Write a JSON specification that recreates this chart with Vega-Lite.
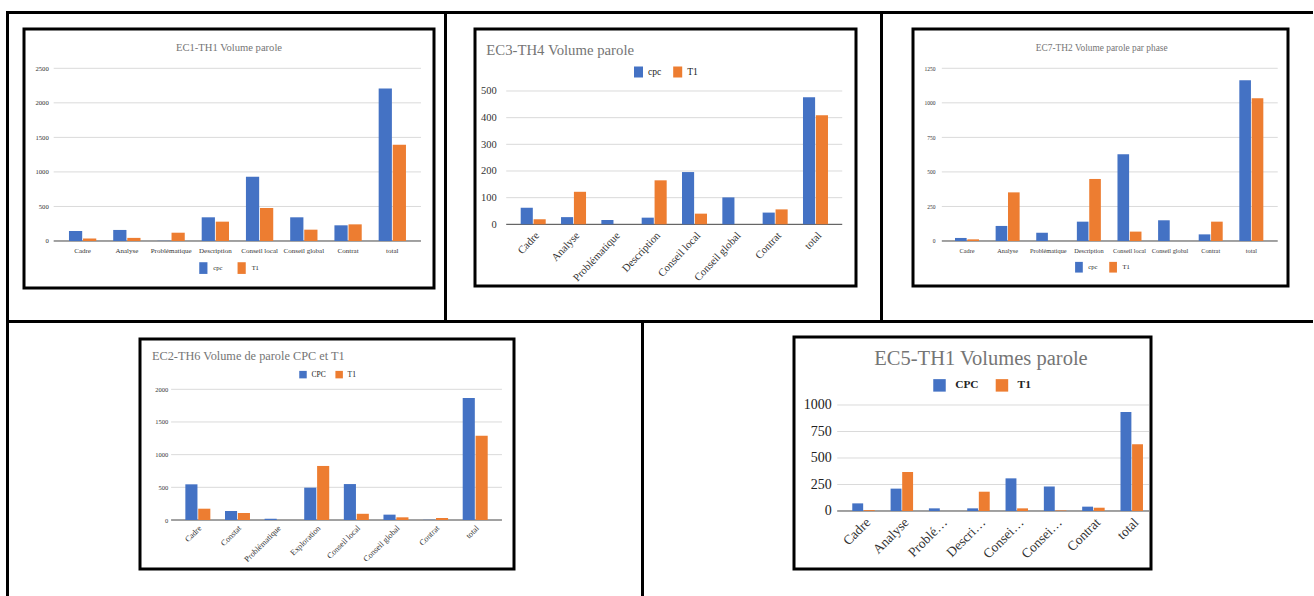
{
  "$schema": "https://vega.github.io/schema/vega-lite/v6.json",
  "background": "white",
  "padding": {"left": 6, "top": 11, "right": 0, "bottom": 0},
  "spacing": 0,
  "resolve": {"scale": {"color": "independent", "xOffset": "independent"}, "legend": {"color": "independent"}},
  "config": {
    "font": "Liberation Serif",
    "concat": {"spacing": 0},
    "title": {"font": "Liberation Serif", "fontWeight": "normal", "color": "#757575", "frame": "group", "baseline": "alphabetic"},
    "axis": {"labelFont": "Liberation Serif", "labelColor": "#333"},
    "legend": {"labelFont": "Liberation Serif", "labelColor": "#222"}
  },
  "datasets": {
    "ec1": [
      {"cat": "Cadre", "s": "cpc", "v": 145}, {"cat": "Cadre", "s": "T1", "v": 35},
      {"cat": "Analyse", "s": "cpc", "v": 160}, {"cat": "Analyse", "s": "T1", "v": 45},
      {"cat": "Problématique", "s": "cpc", "v": 3}, {"cat": "Problématique", "s": "T1", "v": 120},
      {"cat": "Description", "s": "cpc", "v": 343}, {"cat": "Description", "s": "T1", "v": 280},
      {"cat": "Conseil local", "s": "cpc", "v": 931}, {"cat": "Conseil local", "s": "T1", "v": 478},
      {"cat": "Conseil global", "s": "cpc", "v": 343}, {"cat": "Conseil global", "s": "T1", "v": 164},
      {"cat": "Contrat", "s": "cpc", "v": 227}, {"cat": "Contrat", "s": "T1", "v": 241},
      {"cat": "total", "s": "cpc", "v": 2206}, {"cat": "total", "s": "T1", "v": 1395}
    ],
    "ec3": [
      {"cat": "Cadre", "s": "cpc", "v": 62}, {"cat": "Cadre", "s": "T1", "v": 19},
      {"cat": "Analyse", "s": "cpc", "v": 27}, {"cat": "Analyse", "s": "T1", "v": 122},
      {"cat": "Problématique", "s": "cpc", "v": 16}, {"cat": "Problématique", "s": "T1", "v": 0},
      {"cat": "Description", "s": "cpc", "v": 25}, {"cat": "Description", "s": "T1", "v": 165},
      {"cat": "Conseil local", "s": "cpc", "v": 196}, {"cat": "Conseil local", "s": "T1", "v": 40},
      {"cat": "Conseil global", "s": "cpc", "v": 101}, {"cat": "Conseil global", "s": "T1", "v": 0},
      {"cat": "Contrat", "s": "cpc", "v": 44}, {"cat": "Contrat", "s": "T1", "v": 56},
      {"cat": "total", "s": "cpc", "v": 477}, {"cat": "total", "s": "T1", "v": 409}
    ],
    "ec7": [
      {"cat": "Cadre", "s": "cpc", "v": 22}, {"cat": "Cadre", "s": "T1", "v": 12},
      {"cat": "Analyse", "s": "cpc", "v": 109}, {"cat": "Analyse", "s": "T1", "v": 352},
      {"cat": "Problématique", "s": "cpc", "v": 60}, {"cat": "Problématique", "s": "T1", "v": 0},
      {"cat": "Description", "s": "cpc", "v": 140}, {"cat": "Description", "s": "T1", "v": 449},
      {"cat": "Conseil local", "s": "cpc", "v": 627}, {"cat": "Conseil local", "s": "T1", "v": 68},
      {"cat": "Conseil global", "s": "cpc", "v": 150}, {"cat": "Conseil global", "s": "T1", "v": 0},
      {"cat": "Contrat", "s": "cpc", "v": 48}, {"cat": "Contrat", "s": "T1", "v": 140},
      {"cat": "total", "s": "cpc", "v": 1163}, {"cat": "total", "s": "T1", "v": 1033}
    ],
    "ec2": [
      {"cat": "Cadre", "s": "CPC", "v": 546}, {"cat": "Cadre", "s": "T1", "v": 173},
      {"cat": "Constat", "s": "CPC", "v": 138}, {"cat": "Constat", "s": "T1", "v": 107},
      {"cat": "Problématique", "s": "CPC", "v": 20}, {"cat": "Problématique", "s": "T1", "v": 0},
      {"cat": "Exploration", "s": "CPC", "v": 495}, {"cat": "Exploration", "s": "T1", "v": 827},
      {"cat": "Conseil local", "s": "CPC", "v": 550}, {"cat": "Conseil local", "s": "T1", "v": 95},
      {"cat": "Conseil global", "s": "CPC", "v": 82}, {"cat": "Conseil global", "s": "T1", "v": 41},
      {"cat": "Contrat", "s": "CPC", "v": 3}, {"cat": "Contrat", "s": "T1", "v": 31},
      {"cat": "total", "s": "CPC", "v": 1867}, {"cat": "total", "s": "T1", "v": 1291}
    ],
    "ec5": [
      {"cat": "Cadre", "s": "CPC", "v": 72}, {"cat": "Cadre", "s": "T1", "v": 8},
      {"cat": "Analyse", "s": "CPC", "v": 211}, {"cat": "Analyse", "s": "T1", "v": 368},
      {"cat": "Problématique", "s": "CPC", "v": 25}, {"cat": "Problématique", "s": "T1", "v": 0},
      {"cat": "Description", "s": "CPC", "v": 25}, {"cat": "Description", "s": "T1", "v": 182},
      {"cat": "Conseil local", "s": "CPC", "v": 308}, {"cat": "Conseil local", "s": "T1", "v": 25},
      {"cat": "Conseil global", "s": "CPC", "v": 230}, {"cat": "Conseil global", "s": "T1", "v": 5},
      {"cat": "Contrat", "s": "CPC", "v": 41}, {"cat": "Contrat", "s": "T1", "v": 31},
      {"cat": "total", "s": "CPC", "v": 934}, {"cat": "total", "s": "T1", "v": 629}
    ]
  },
  "vconcat": [
    {"width": 1307, "height": 3, "data": {"values": []}, "mark": "point", "view": {"stroke": null, "fill": "#000"}},
    {
      "spacing": 0,
      "resolve": {"scale": {"color": "independent", "xOffset": "independent"}, "legend": {"color": "independent"}},
      "hconcat": [
        {"width": 3, "height": 306, "data": {"values": []}, "mark": "point", "view": {"stroke": null, "fill": "#000"}},
        {"width": 12.5, "height": 1, "data": {"values": []}, "mark": "point", "view": {"stroke": null}},
        {
          "spacing": 0,
          "resolve": {"scale": {"color": "independent", "xOffset": "independent"}, "legend": {"color": "independent"}},
          "vconcat": [
            {"width": 1, "height": 12.5, "data": {"values": []}, "mark": "point", "view": {"stroke": null}},
            {
              "width": 410, "height": 259,
              "view": {"stroke": "#000", "strokeWidth": 3},
              "title": {"text": "EC1-TH1 Volume parole", "anchor": "middle", "offset": -25, "fontSize": 10.6},
              "layer": [
                {
                  "data": {"values": [{"g": 0}, {"g": 500}, {"g": 1000}, {"g": 1500}, {"g": 2000}, {"g": 2500}]},
                  "mark": {"type": "rule", "strokeWidth": 1},
                  "encoding": {
                    "x": {"datum": "Cadre", "type": "nominal", "bandPosition": -0.56,
                          "scale": {"domain": ["Cadre", "Analyse", "Problématique", "Description", "Conseil local", "Conseil global", "Contrat", "total"], "paddingInner": 0.383, "paddingOuter": 0.825, "align": 0.616}},
                    "x2": {"datum": "total", "bandPosition": 1.55},
                    "y": {"field": "g", "type": "quantitative", "scale": {"domain": [-680.4, 3068.9], "nice": false, "zero": false}},
                    "color": {"condition": {"test": "datum.g == 0", "value": "#444"}, "value": "#dadada"}
                  }
                },
                {
                  "data": {"name": "ec1"},
                  "mark": {"type": "bar"},
                  "encoding": {
                    "x": {"field": "cat", "type": "nominal", "sort": null,
                          "scale": {"domain": ["Cadre", "Analyse", "Problématique", "Description", "Conseil local", "Conseil global", "Contrat", "total"], "paddingInner": 0.383, "paddingOuter": 0.825, "align": 0.616},
                          "axis": {"orient": "bottom", "offset": -47, "domain": false, "ticks": false, "tickSize": 0, "labelPadding": 5.5, "labelAngle": 0, "labelAlign": "center", "labelBaseline": "top", "title": null, "labelFontSize": 7, "labelOverlap": false, "labelBound": false}},
                    "xOffset": {"field": "s", "type": "nominal", "sort": null, "scale": {"domain": ["cpc", "T1"], "paddingInner": 0.06, "paddingOuter": 0}},
                    "y": {"field": "v", "type": "quantitative", "scale": {"domain": [-680.4, 3068.9], "nice": false, "zero": false},
                          "axis": {"values": [0, 500, 1000, 1500, 2000, 2500], "format": "d", "grid": false, "domain": false, "ticks": false, "tickSize": 0, "labelPadding": 2, "offset": -26.3, "title": null, "labelFontSize": 6.7, "labelOverlap": false}},
                    "color": {"field": "s", "type": "nominal", "scale": {"domain": ["cpc", "T1"], "range": ["#4472C4", "#ED7D31"]},
                              "legend": {"orient": "none", "legendX": 173.35, "legendY": 233, "direction": "horizontal", "title": null, "symbolType": "M-0.7,-1H0.7V1H-0.7Z", "symbolSize": 137, "symbolStrokeWidth": 0, "labelFontSize": 6.5, "labelOffset": 4, "columnPadding": 12.3, "padding": 0}}
                  }
                }
              ]
            }
          ]
        },
        {"width": 7.5, "height": 1, "data": {"values": []}, "mark": "point", "view": {"stroke": null}},
        {"width": 3, "height": 306, "data": {"values": []}, "mark": "point", "view": {"stroke": null, "fill": "#000"}},
        {"width": 25.5, "height": 1, "data": {"values": []}, "mark": "point", "view": {"stroke": null}},
        {
          "spacing": 0,
          "resolve": {"scale": {"color": "independent", "xOffset": "independent"}, "legend": {"color": "independent"}},
          "vconcat": [
            {"width": 1, "height": 12.5, "data": {"values": []}, "mark": "point", "view": {"stroke": null}},
            {
              "width": 381, "height": 257,
              "view": {"stroke": "#000", "strokeWidth": 3},
              "title": {"text": "EC3-TH4 Volume parole", "anchor": "start", "dx": 11.3, "offset": -28.5, "fontSize": 14.75},
              "layer": [
                {
                  "data": {"values": [{"g": 0}, {"g": 100}, {"g": 200}, {"g": 300}, {"g": 400}, {"g": 500}]},
                  "mark": {"type": "rule", "strokeWidth": 1},
                  "encoding": {
                    "x": {"datum": "Cadre", "type": "nominal", "bandPosition": -0.58,
                          "scale": {"domain": ["Cadre", "Analyse", "Problématique", "Description", "Conseil local", "Conseil global", "Contrat", "total"], "paddingInner": 0.38, "paddingOuter": 0.914, "align": 0.62}},
                    "x2": {"datum": "total", "bandPosition": 1.57},
                    "y": {"field": "g", "type": "quantitative", "scale": {"domain": [-231.3, 732.5], "nice": false, "zero": false}},
                    "color": {"condition": {"test": "datum.g == 0", "value": "#444"}, "value": "#dadada"}
                  }
                },
                {
                  "data": {"name": "ec3"},
                  "mark": {"type": "bar"},
                  "encoding": {
                    "x": {"field": "cat", "type": "nominal", "sort": null,
                          "scale": {"domain": ["Cadre", "Analyse", "Problématique", "Description", "Conseil local", "Conseil global", "Contrat", "total"], "paddingInner": 0.38, "paddingOuter": 0.914, "align": 0.62},
                          "axis": {"orient": "bottom", "offset": -61.7, "domain": false, "ticks": false, "tickSize": 0, "labelPadding": 5, "labelAngle": -47, "labelAlign": "right", "labelBaseline": "top", "title": null, "labelFontSize": 10.8, "labelOverlap": false, "labelBound": false}},
                    "xOffset": {"field": "s", "type": "nominal", "sort": null, "scale": {"domain": ["cpc", "T1"], "paddingInner": 0.06, "paddingOuter": 0}},
                    "y": {"field": "v", "type": "quantitative", "scale": {"domain": [-231.3, 732.5], "nice": false, "zero": false},
                          "axis": {"values": [0, 100, 200, 300, 400, 500], "format": "d", "grid": false, "domain": false, "ticks": false, "tickSize": 0, "labelPadding": 2, "offset": -23.3, "title": null, "labelFontSize": 10.5, "labelOverlap": false}},
                    "color": {"field": "s", "type": "nominal", "scale": {"domain": ["cpc", "T1"], "range": ["#4472C4", "#ED7D31"]},
                              "legend": {"orient": "none", "legendX": 158, "legendY": 37.5, "direction": "horizontal", "title": null, "symbolType": "M-0.82,-1H0.82V1H-0.82Z", "symbolSize": 121, "symbolStrokeWidth": 0, "labelFontSize": 9.6, "labelOffset": 4, "columnPadding": 10.2, "padding": 0}}
                  }
                }
              ]
            }
          ]
        },
        {"width": 21.5, "height": 1, "data": {"values": []}, "mark": "point", "view": {"stroke": null}},
        {"width": 3, "height": 306, "data": {"values": []}, "mark": "point", "view": {"stroke": null, "fill": "#000"}},
        {"width": 27.5, "height": 1, "data": {"values": []}, "mark": "point", "view": {"stroke": null}},
        {
          "spacing": 0,
          "resolve": {"scale": {"color": "independent", "xOffset": "independent"}, "legend": {"color": "independent"}},
          "vconcat": [
            {"width": 1, "height": 12.5, "data": {"values": []}, "mark": "point", "view": {"stroke": null}},
            {
              "width": 375, "height": 257,
              "view": {"stroke": "#000", "strokeWidth": 3},
              "title": {"text": "EC7-TH2 Volume parole par phase", "anchor": "middle", "dx": 1.2, "offset": -24.8, "fontSize": 9.4},
              "layer": [
                {
                  "data": {"values": [{"g": 0}, {"g": 250}, {"g": 500}, {"g": 750}, {"g": 1000}, {"g": 1250}]},
                  "mark": {"type": "rule", "strokeWidth": 1},
                  "encoding": {
                    "x": {"datum": "Cadre", "type": "nominal", "bandPosition": -0.55,
                          "scale": {"domain": ["Cadre", "Analyse", "Problématique", "Description", "Conseil local", "Conseil global", "Contrat", "total"], "paddingInner": 0.409, "paddingOuter": 0.821, "align": 0.63}},
                    "x2": {"datum": "total", "bandPosition": 1.6},
                    "y": {"field": "g", "type": "quantitative", "scale": {"domain": [-325.7, 1534.4], "nice": false, "zero": false}},
                    "color": {"condition": {"test": "datum.g == 0", "value": "#444"}, "value": "#dadada"}
                  }
                },
                {
                  "data": {"name": "ec7"},
                  "mark": {"type": "bar"},
                  "encoding": {
                    "x": {"field": "cat", "type": "nominal", "sort": null,
                          "scale": {"domain": ["Cadre", "Analyse", "Problématique", "Description", "Conseil local", "Conseil global", "Contrat", "total"], "paddingInner": 0.409, "paddingOuter": 0.821, "align": 0.63},
                          "axis": {"orient": "bottom", "offset": -45, "domain": false, "ticks": false, "tickSize": 0, "labelPadding": 6, "labelAngle": 0, "labelAlign": "center", "labelBaseline": "top", "title": null, "labelFontSize": 6.3, "labelOverlap": false, "labelBound": false}},
                    "xOffset": {"field": "s", "type": "nominal", "sort": null, "scale": {"domain": ["cpc", "T1"], "paddingInner": 0.06, "paddingOuter": 0}},
                    "y": {"field": "v", "type": "quantitative", "scale": {"domain": [-325.7, 1534.4], "nice": false, "zero": false},
                          "axis": {"values": [0, 250, 500, 750, 1000, 1250], "format": "d", "grid": false, "domain": false, "ticks": false, "tickSize": 0, "labelPadding": 2, "offset": -24, "title": null, "labelFontSize": 5.5, "labelOverlap": false}},
                    "color": {"field": "s", "type": "nominal", "scale": {"domain": ["cpc", "T1"], "range": ["#4472C4", "#ED7D31"]},
                              "legend": {"orient": "none", "legendX": 160.45, "legendY": 232.65, "direction": "horizontal", "title": null, "symbolType": "M-0.72,-1H0.72V1H-0.72Z", "symbolSize": 114.5, "symbolStrokeWidth": 0, "labelFontSize": 6.5, "labelOffset": 3.85, "columnPadding": 10.15, "padding": 0}}
                  }
                }
              ]
            }
          ]
        },
        {"width": 25.5, "height": 1, "data": {"values": []}, "mark": "point", "view": {"stroke": null}},
        {"width": 3, "height": 306, "data": {"values": []}, "mark": "point", "view": {"stroke": null, "fill": "#000"}}
      ]
    },
    {"width": 1307, "height": 3, "data": {"values": []}, "mark": "point", "view": {"stroke": null, "fill": "#000"}},
    {
      "spacing": 0,
      "resolve": {"scale": {"color": "independent", "xOffset": "independent"}, "legend": {"color": "independent"}},
      "hconcat": [
        {"width": 3, "height": 273, "data": {"values": []}, "mark": "point", "view": {"stroke": null, "fill": "#000"}},
        {"width": 128.5, "height": 1, "data": {"values": []}, "mark": "point", "view": {"stroke": null}},
        {
          "spacing": 0,
          "resolve": {"scale": {"color": "independent", "xOffset": "independent"}, "legend": {"color": "independent"}},
          "vconcat": [
            {"width": 1, "height": 13.5, "data": {"values": []}, "mark": "point", "view": {"stroke": null}},
            {
              "width": 374, "height": 230,
              "view": {"stroke": "#000", "strokeWidth": 3},
              "title": {"text": "EC2-TH6 Volume de parole CPC et T1", "anchor": "start", "dx": 12, "offset": -23.5, "fontSize": 12.3},
              "layer": [
                {
                  "data": {"values": [{"g": 0}, {"g": 500}, {"g": 1000}, {"g": 1500}, {"g": 2000}]},
                  "mark": {"type": "rule", "strokeWidth": 1},
                  "encoding": {
                    "x": {"datum": "Cadre", "type": "nominal", "bandPosition": -0.57,
                          "scale": {"domain": ["Cadre", "Constat", "Problématique", "Exploration", "Conseil local", "Conseil global", "Contrat", "total"], "paddingInner": 0.369, "paddingOuter": 0.904, "align": 0.633}},
                    "x2": {"datum": "total", "bandPosition": 1.57},
                    "y": {"field": "g", "type": "quantitative", "scale": {"domain": [-749.8, 2769.7], "nice": false, "zero": false}},
                    "color": {"condition": {"test": "datum.g == 0", "value": "#444"}, "value": "#dadada"}
                  }
                },
                {
                  "data": {"name": "ec2"},
                  "mark": {"type": "bar"},
                  "encoding": {
                    "x": {"field": "cat", "type": "nominal", "sort": null,
                          "scale": {"domain": ["Cadre", "Constat", "Problématique", "Exploration", "Conseil local", "Conseil global", "Contrat", "total"], "paddingInner": 0.369, "paddingOuter": 0.904, "align": 0.633},
                          "axis": {"orient": "bottom", "offset": -49, "domain": false, "ticks": false, "tickSize": 0, "labelPadding": 4, "labelAngle": -45, "labelAlign": "right", "labelBaseline": "top", "title": null, "labelFontSize": 8.2, "labelOverlap": false, "labelBound": false}},
                    "xOffset": {"field": "s", "type": "nominal", "sort": null, "scale": {"domain": ["CPC", "T1"], "paddingInner": 0.06, "paddingOuter": 0}},
                    "y": {"field": "v", "type": "quantitative", "scale": {"domain": [-749.8, 2769.7], "nice": false, "zero": false},
                          "axis": {"values": [0, 500, 1000, 1500, 2000], "format": "d", "grid": false, "domain": false, "ticks": false, "tickSize": 0, "labelPadding": 2, "offset": -29.7, "title": null, "labelFontSize": 6.5, "labelOverlap": false}},
                    "color": {"field": "s", "type": "nominal", "scale": {"domain": ["CPC", "T1"], "range": ["#4472C4", "#ED7D31"]},
                              "legend": {"orient": "none", "legendX": 159, "legendY": 31.5, "direction": "horizontal", "title": null, "symbolType": "square", "symbolSize": 56, "symbolStrokeWidth": 0, "labelFontSize": 7.6, "labelOffset": 4.45, "columnPadding": 9.15, "padding": 0}}
                  }
                }
              ]
            }
          ]
        },
        {"width": 124.5, "height": 1, "data": {"values": []}, "mark": "point", "view": {"stroke": null}},
        {"width": 3, "height": 273, "data": {"values": []}, "mark": "point", "view": {"stroke": null, "fill": "#000"}},
        {"width": 147.5, "height": 1, "data": {"values": []}, "mark": "point", "view": {"stroke": null}},
        {
          "spacing": 0,
          "resolve": {"scale": {"color": "independent", "xOffset": "independent"}, "legend": {"color": "independent"}},
          "vconcat": [
            {"width": 1, "height": 11.5, "data": {"values": []}, "mark": "point", "view": {"stroke": null}},
            {
              "width": 357, "height": 232,
              "view": {"stroke": "#000", "strokeWidth": 3},
              "title": {"text": "EC5-TH1 Volumes parole", "anchor": "middle", "dx": 8.5, "offset": -32.2, "fontSize": 20.5},
              "layer": [
                {
                  "data": {"values": [{"g": 0}, {"g": 250}, {"g": 500}, {"g": 750}, {"g": 1000}]},
                  "mark": {"type": "rule", "strokeWidth": 1},
                  "encoding": {
                    "x": {"datum": "Cadre", "type": "nominal", "bandPosition": -0.67,
                          "scale": {"domain": ["Cadre", "Analyse", "Problématique", "Description", "Conseil local", "Conseil global", "Contrat", "total"], "paddingInner": 0.413, "paddingOuter": 0.865, "align": 0.879}},
                    "x2": {"datum": "total", "bandPosition": 1.27},
                    "y": {"field": "g", "type": "quantitative", "scale": {"domain": [-547.2, 1641.5], "nice": false, "zero": false}},
                    "color": {"condition": {"test": "datum.g == 0", "value": "#444"}, "value": "#dadada"}
                  }
                },
                {
                  "data": {"name": "ec5"},
                  "mark": {"type": "bar"},
                  "encoding": {
                    "x": {"field": "cat", "type": "nominal", "sort": null,
                          "scale": {"domain": ["Cadre", "Analyse", "Problématique", "Description", "Conseil local", "Conseil global", "Contrat", "total"], "paddingInner": 0.413, "paddingOuter": 0.865, "align": 0.879},
                          "axis": {"orient": "bottom", "offset": -58, "domain": false, "ticks": false, "tickSize": 0, "labelPadding": 4, "labelAngle": -45, "labelAlign": "right", "labelBaseline": "top", "title": null, "labelFontSize": 13.5, "labelLimit": 53, "labelOverlap": false, "labelBound": false}},
                    "xOffset": {"field": "s", "type": "nominal", "sort": null, "scale": {"domain": ["CPC", "T1"], "paddingInner": 0.06, "paddingOuter": 0}},
                    "y": {"field": "v", "type": "quantitative", "scale": {"domain": [-547.2, 1641.5], "nice": false, "zero": false},
                          "axis": {"values": [0, 250, 500, 750, 1000], "format": "d", "grid": false, "domain": false, "ticks": false, "tickSize": 0, "labelPadding": 2, "offset": -39.3, "title": null, "labelFontSize": 14, "labelColor": "#222", "labelOverlap": false}},
                    "color": {"field": "s", "type": "nominal", "scale": {"domain": ["CPC", "T1"], "range": ["#4472C4", "#ED7D31"]},
                              "legend": {"orient": "none", "legendX": 139, "legendY": 41.75, "direction": "horizontal", "title": null, "symbolType": "square", "symbolSize": 156, "symbolStrokeWidth": 0, "labelFontSize": 11.4, "labelFontWeight": "bold", "labelOffset": 9.15, "columnPadding": 16.45, "padding": 0}}
                  }
                }
              ]
            }
          ]
        },
        {"width": 160.5, "height": 1, "data": {"values": []}, "mark": "point", "view": {"stroke": null}},
        {"width": 3, "height": 273, "data": {"values": []}, "mark": "point", "view": {"stroke": null, "fill": "#000"}}
      ]
    }
  ]
}
